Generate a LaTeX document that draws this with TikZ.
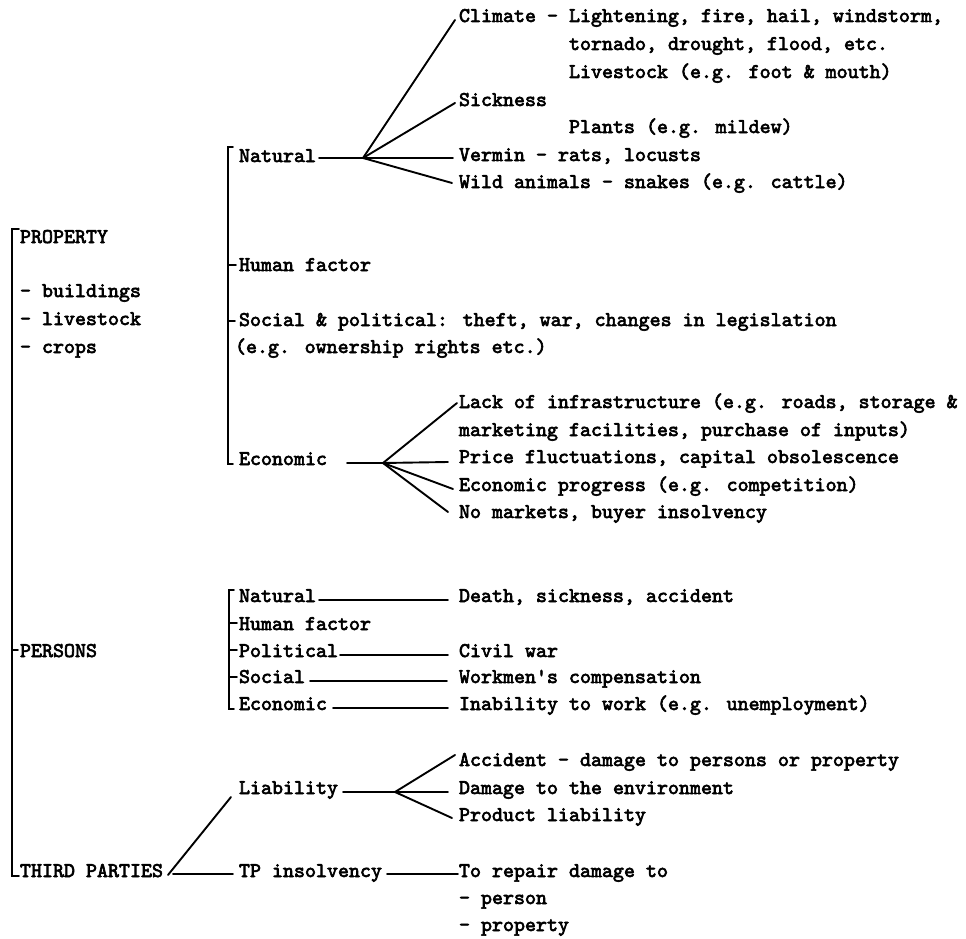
\documentclass[tikz,border=0pt]{standalone}
\usepackage{fontspec}
\newfontfamily\typewriter{lmmono10-regular}[Extension=.otf, FakeBold=3]
\tikzset{
  txt/.style={anchor=base west, inner sep=0pt, outer sep=0pt,
    font=\typewriter\fontsize{20.95}{27.7}\selectfont},
  rule/.style={line width=1.9pt, line cap=round, line join=miter},
}
\begin{document}
\begin{tikzpicture}[x=1pt,y=-1pt]
\useasboundingbox[fill=white] (0,0) rectangle (966,939);

% ---- left column: the three risk objects
\node[txt] (prop)  at (20,243) {PROPERTY};
\node[txt] (bld)   at (20,297) {- buildings};
\node[txt] (lvs)   at (20,325) {- livestock};
\node[txt] (crp)   at (20,353) {- crops};
\node[txt] (pers)  at (20,657) {PERSONS};
\node[txt] (third) at (20,877) {THIRD PARTIES};

% ---- property: causes
\node[txt] (nnat)  at (239,162) {Natural};
\node[txt] (nhum)  at (239,271) {Human factor};
\node[txt] (nsoc)  at (239,326) {Social \& political: theft, war, changes in legislation};
\node[txt] (nsoc2) at (235,353) {(e.g. ownership rights etc.)};
\node[txt] (nec)   at (239,465) {Economic};

% natural hazards
\node[txt] (clim)  at (459,22)  {Climate - Lightening, fire, hail, windstorm,};
\node[txt] (clim2) at (569,50)  {tornado, drought, flood, etc.};
\node[txt] (clim3) at (569,78)  {Livestock (e.g. foot \& mouth)};
\node[txt] (sick)  at (459,106) {Sickness};
\node[txt] (plant) at (569,133) {Plants (e.g. mildew)};
\node[txt] (verm)  at (459,161) {Vermin - rats, locusts};
\node[txt] (wild)  at (459,188) {Wild animals - snakes (e.g. cattle)};

% economic hazards
\node[txt] (lack)  at (459,408) {Lack of infrastructure (e.g. roads, storage \&};
\node[txt] (lack2) at (459,436) {marketing facilities, purchase of inputs)};
\node[txt] (price) at (459,463) {Price fluctuations, capital obsolescence};
\node[txt] (prog)  at (459,491) {Economic progress (e.g. competition)};
\node[txt] (nomk)  at (459,518) {No markets, buyer insolvency};

% ---- persons
\node[txt] (pnat)  at (239,602) {Natural};
\node[txt] (phum)  at (239,630) {Human factor};
\node[txt] (ppol)  at (239,657) {Political};
\node[txt] (psoc)  at (239,683) {Social};
\node[txt] (pec)   at (239,710) {Economic};
\node[txt] (death) at (459,602) {Death, sickness, accident};
\node[txt] (civil) at (459,657) {Civil war};
\node[txt] (work)  at (459,683) {Workmen's compensation};
\node[txt] (inab)  at (459,710) {Inability to work (e.g. unemployment)};

% ---- third parties
\node[txt] (liab)  at (239,794) {Liability};
\node[txt] (acc)   at (459,766) {Accident - damage to persons or property};
\node[txt] (dmg)   at (459,794) {Damage to the environment};
\node[txt] (prod)  at (459,821) {Product liability};
\node[txt] (tpi)   at (239,877) {TP insolvency};
\node[txt] (rep)   at (459,877) {To repair damage to};
\node[txt] (rp1)   at (459,904) {- person};
\node[txt] (rp2)   at (459,931) {- property};

% ---- fan points
\coordinate (fanN) at (363,158);
\coordinate (fanE) at (383,463);
\coordinate (fanL) at (395,792);

% ---- brackets
\draw[rule] ([xshift=-1pt,yshift=14pt]prop.base west) -| ([xshift=-8pt,yshift=1pt]third.base west)
            -- ([xshift=-1pt,yshift=1pt]third.base west);
\draw[rule] ([xshift=-8pt,yshift=7pt]pers.base west) -- ++(6,0);

\draw[rule] ([xshift=-6pt,yshift=15pt]nnat.base west) -| ([xshift=-11pt,yshift=1pt]nec.base west)
            -- ([xshift=-6pt,yshift=1pt]nec.base west);
\draw[rule] ([xshift=-11pt,yshift=6pt]nhum.base west) -- ++(8,0);
\draw[rule] ([xshift=-11pt,yshift=5pt]nsoc.base west) -- ++(7,0);

\draw[rule] ([xshift=-5pt,yshift=12pt]pnat.base west) -| ([xshift=-10pt,yshift=1pt]pec.base west)
            -- ([xshift=-5pt,yshift=1pt]pec.base west);
\draw[rule] ([xshift=-10pt,yshift=7pt]phum.base west) -- ++(8,0);
\draw[rule] ([xshift=-10pt,yshift=7pt]ppol.base west) -- ++(8,0);
\draw[rule] ([xshift=-10pt,yshift=6pt]psoc.base west) -- ++(8,0);

% ---- natural hazards fan
\draw[rule] ([xshift=3pt,yshift=4pt]nnat.base east) -- (fanN);
\draw[rule] (fanN) -- ([xshift=-4pt,yshift=2pt]clim.base west);
\draw[rule] (fanN) -- ([xshift=-4pt,yshift=3pt]sick.base west);
\draw[rule] (fanN) -- ([xshift=-6pt,yshift=3pt]verm.base west);
\draw[rule] (fanN) -- ([xshift=-7pt,yshift=5pt]wild.base west);

% ---- economic hazards fan
\draw[rule] ([xshift=20pt,yshift=2pt]nec.base east) -- (fanE);
\draw[rule] (fanE) -- ([xshift=-2pt,yshift=5pt]lack.base west);
\draw[rule] (fanE) -- ([xshift=-11pt,yshift=1pt]price.base west);
\draw[rule] (fanE) -- ([xshift=-6pt,yshift=2pt]prog.base west);
\draw[rule] (fanE) -- ([xshift=-11pt,yshift=6pt]nomk.base west);

% ---- persons links
\draw[rule] ([xshift=3pt,yshift=2pt]pnat.base east) -- ([xshift=-11pt,yshift=2pt]death.base west);
\draw[rule] ([xshift=2pt,yshift=2pt]ppol.base east) -- ([xshift=-11pt,yshift=2pt]civil.base west);
\draw[rule] ([xshift=5pt,yshift=2pt]psoc.base east) -- ([xshift=-12pt,yshift=2pt]work.base west);
\draw[rule] ([xshift=6pt,yshift=2pt]pec.base east) -- ([xshift=-11pt,yshift=2pt]inab.base west);

% ---- liability fan
\draw[rule] ([xshift=5pt,yshift=2pt]liab.base east) -- (fanL);
\draw[rule] (fanL) -- ([xshift=-4pt,yshift=11pt]acc.base west);
\draw[rule] (fanL) -- ([xshift=-11pt,yshift=2pt]dmg.base west);
\draw[rule] (fanL) -- ([xshift=-7pt,yshift=3pt]prod.base west);

% ---- third parties links
\draw[rule] ([xshift=5pt,yshift=2pt]third.base east) -- ([xshift=-8pt,yshift=-3pt]liab.base west);
\draw[rule] ([xshift=10pt,yshift=3pt]third.base east) -- ([xshift=-6pt,yshift=3pt]tpi.base west);
\draw[rule] ([xshift=5pt,yshift=3pt]tpi.base east) -- ([xshift=-1pt,yshift=3pt]rep.base west);
\end{tikzpicture}
\end{document}
